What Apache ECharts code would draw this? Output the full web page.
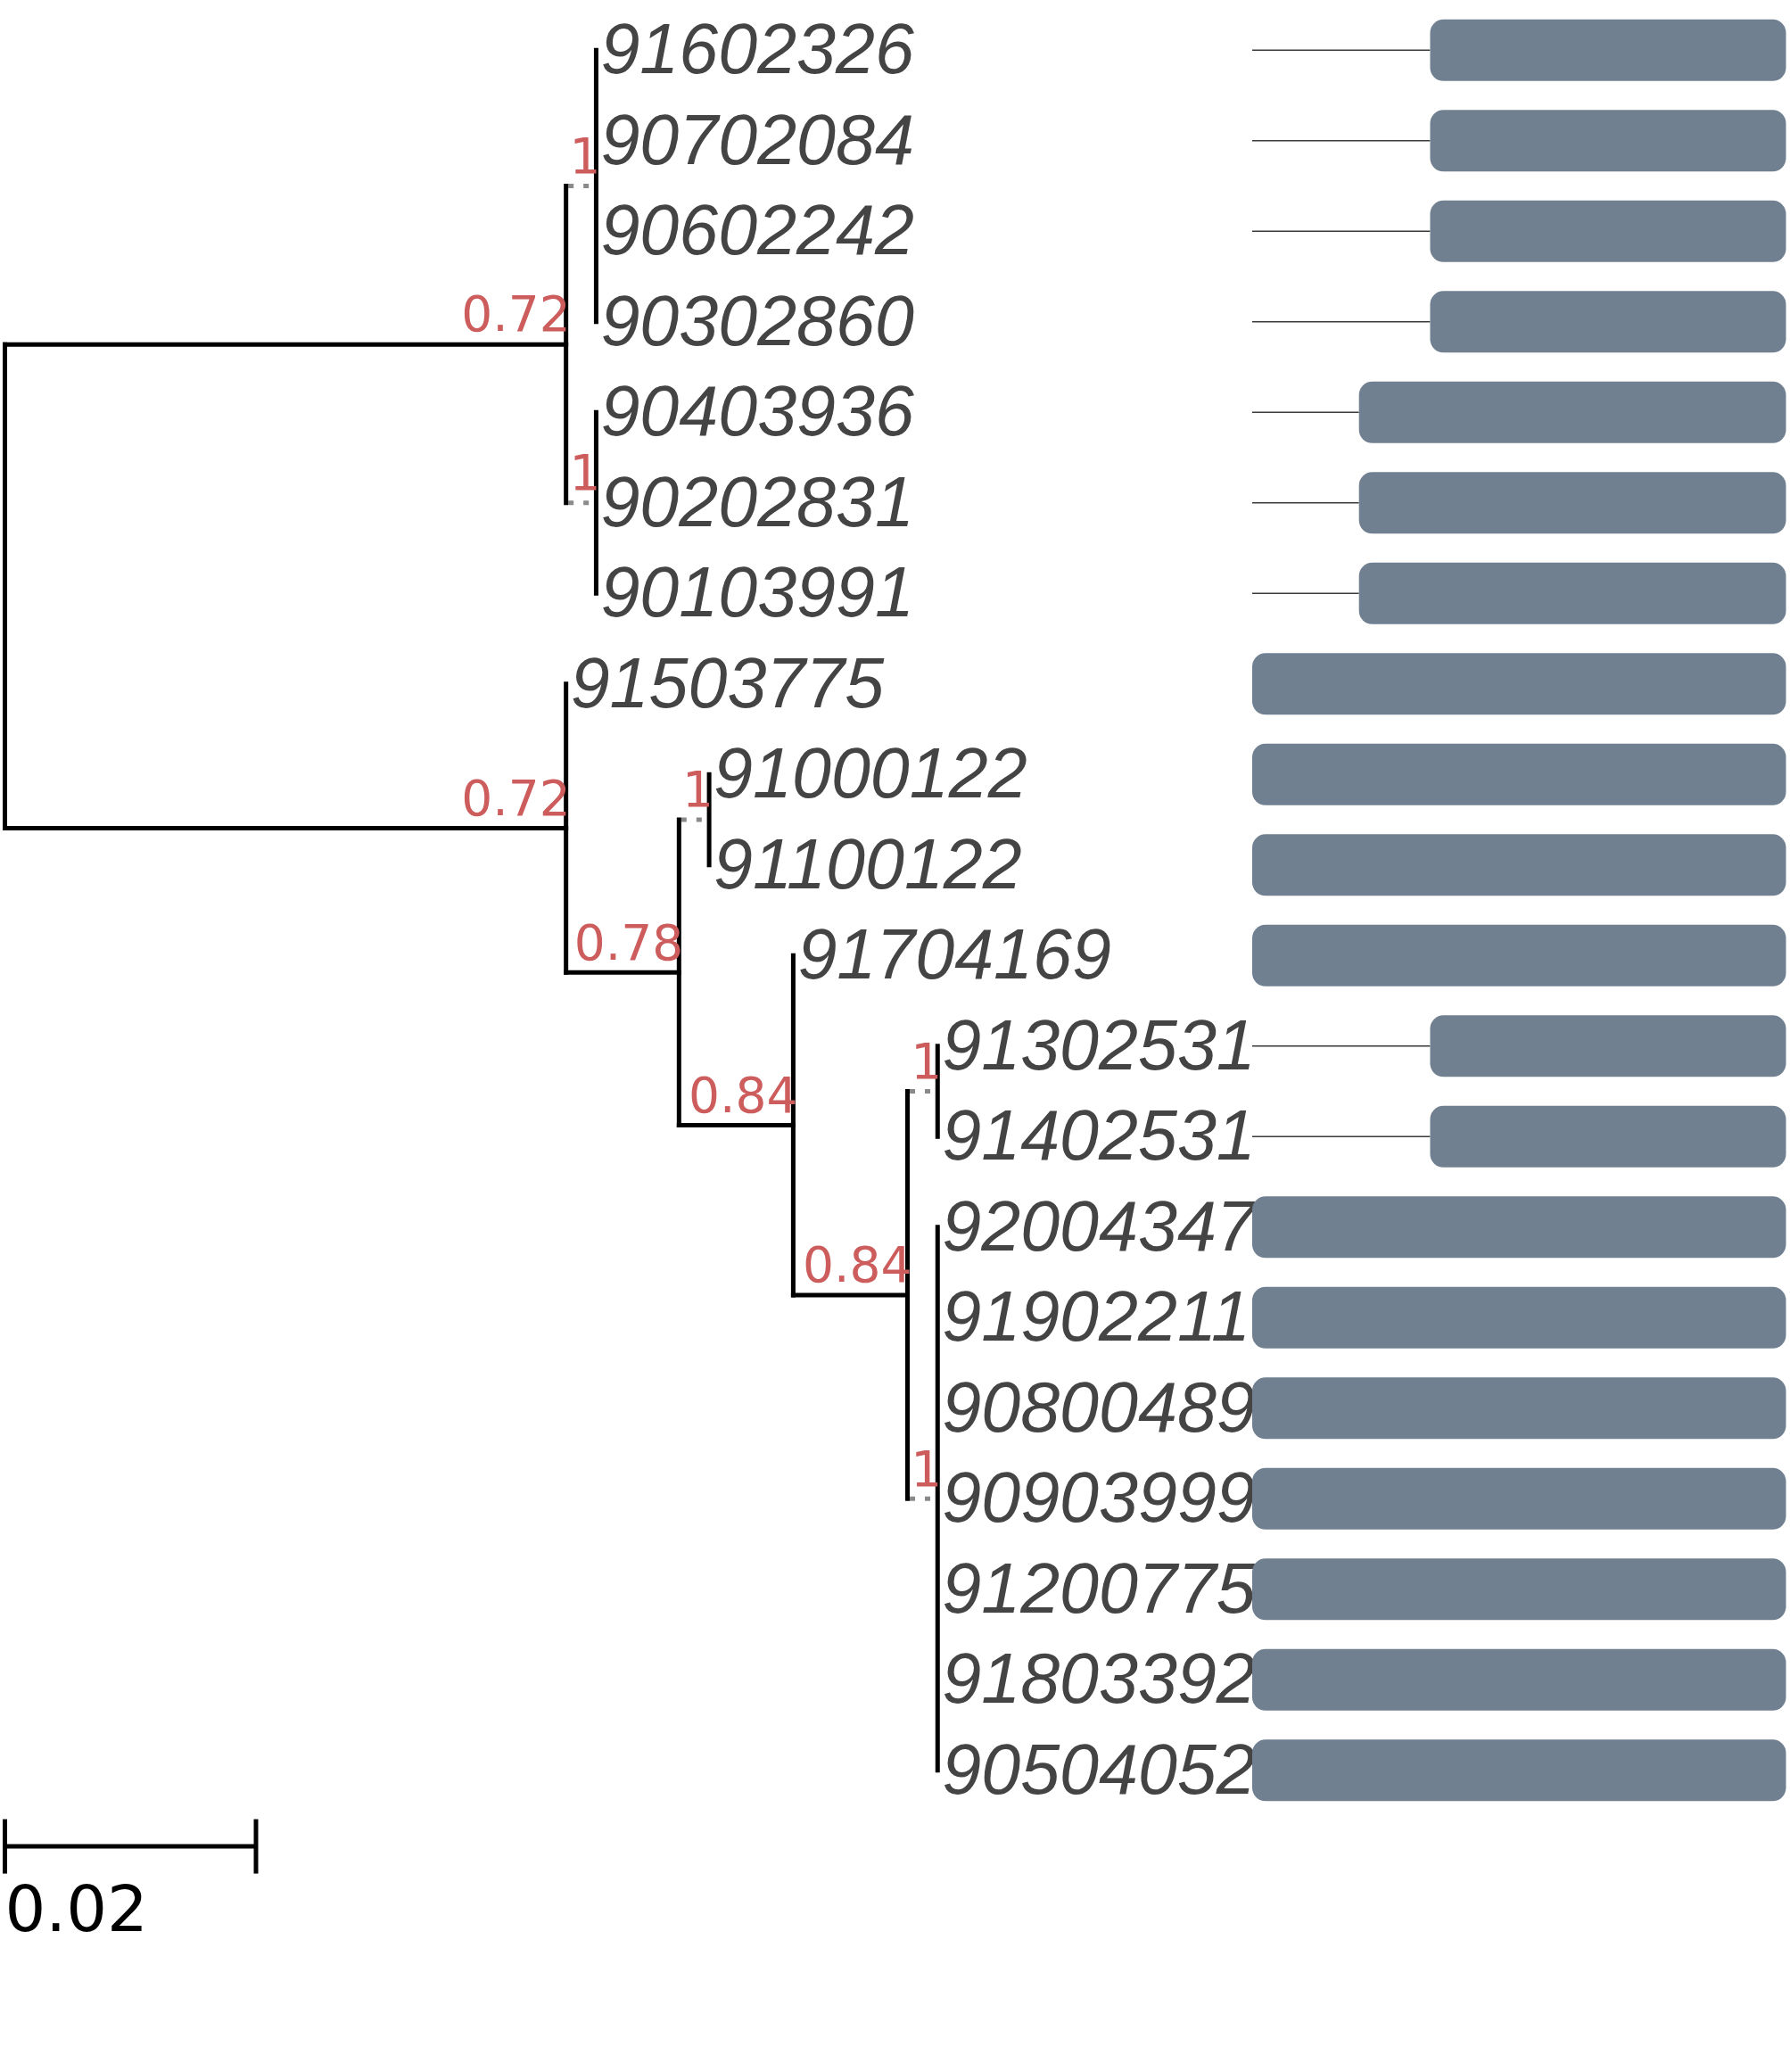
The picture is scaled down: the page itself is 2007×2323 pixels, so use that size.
<!DOCTYPE html>
<html lang="en">
<head>
    <meta charset="UTF-8">
    <title>Tree with bar panel</title>
    <script src="https://cdn.jsdelivr.net/npm/echarts@6/dist/echarts.min.js"></script>
    <style>
        html, body { margin: 0; padding: 0; background: #fff; }
        #chart { width: 2007px; height: 2323px; }
    </style>
</head>
<body>
    <div id="chart"></div>
    <script>
        // tips, top to bottom
        const tipNames = ['91602326', '90702084', '90602242', '90302860', '90403936', '90202831', '90103991',
            '91503775', '91000122', '91100122', '91704169', '91302531', '91402531', '92004347', '91902211',
            '90800489', '90903999', '91200775', '91803392', '90504052'];
        const tipParent = ['A1', 'A1', 'A1', 'A1', 'A2', 'A2', 'A2', 'B', 'D', 'D', 'E', 'G', 'G',
            'H', 'H', 'H', 'H', 'H', 'H', 'H'];
        const tipBranch = [0, 0, 0, 0, 0, 0, 0, 0, 0, 0, 0, 0, 0, 0, 0, 0, 0, 0, 0, 0];

        // internal nodes, parents listed before children
        const nodeIds = ['root', 'A', 'A1', 'A2', 'B', 'C', 'D', 'E', 'F', 'G', 'H'];
        const nodeParent = ['', 'root', 'A', 'A', 'root', 'B', 'C', 'C', 'E', 'F', 'F'];
        const nodeBranch = [0, 0.0447, 0.0024, 0.0024, 0.0447, 0.009, 0.0024, 0.0091, 0.0091, 0.0024, 0.0024];
        const nodeSupport = ['', '0.72', '1', '1', '0.72', '0.78', '1', '0.84', '0.84', '1', '1'];

        // right panel bars
        const barValues = [10, 10, 10, 10, 12, 12, 12, 15, 15, 15, 15, 10, 10, 15, 15, 15, 15, 15, 15, 15];
        const barMax = 15;
        const scaleBarLength = 0.02;

        // layout: x = cumulative branch length, y = tip row / middle of children
        const nodeX = {}, nodeY = {}, kids = {};
        nodeIds.forEach((id, i) => {
            nodeX[id] = i === 0 ? 0 : nodeX[nodeParent[i]] + nodeBranch[i];
            kids[id] = [];
        });
        const tipX = tipNames.map((_, i) => nodeX[tipParent[i]] + tipBranch[i]);
        const tipY = tipNames.map((_, i) => i + 1);
        tipNames.forEach((_, i) => kids[tipParent[i]].push(tipY[i]));
        for (let i = nodeIds.length - 1; i >= 0; i--) {
            const ys = kids[nodeIds[i]];
            nodeY[nodeIds[i]] = (Math.min(...ys) + Math.max(...ys)) / 2;
            if (i > 0) kids[nodeParent[i]].push(nodeY[nodeIds[i]]);
        }

        const edges = [];
        nodeIds.forEach((id, i) => {
            if (i > 0) {
                edges.push([nodeX[nodeParent[i]], nodeY[id], nodeX[id], nodeY[id], nodeSupport[i] === '1' ? 1 : 0]);
            }
            const ys = kids[id];
            edges.push([nodeX[id], Math.min(...ys), nodeX[id], Math.max(...ys), 0]);
        });
        tipNames.forEach((_, i) => {
            if (tipBranch[i] > 0) edges.push([nodeX[tipParent[i]], tipY[i], tipX[i], tipY[i], 0]);
        });
        // dotted ones first so solid lines sit on top
        edges.sort((a, b) => b[4] - a[4]);

        const supportData = [];
        nodeIds.forEach((id, i) => {
            if (nodeSupport[i]) supportData.push([nodeX[id], nodeY[id], nodeSupport[i]]);
        });

        const rowTop = 56.3, rowStep = 101.5;
        const yMax = 22;

        const chart = echarts.init(document.getElementById('chart'));
        const option = {
            animation: false,
            grid: [
                { left: 5.5, top: rowTop, width: 1407.5, height: rowStep * (yMax - 1) },
                { left: 1404, top: rowTop, width: 598.5, height: rowStep * (yMax - 1) }
            ],
            xAxis: [
                { type: 'value', gridIndex: 0, min: 0, max: 0.1, show: false },
                { type: 'value', gridIndex: 1, min: 0, max: barMax, inverse: true, show: false }
            ],
            yAxis: [
                { type: 'value', gridIndex: 0, min: 1, max: yMax, inverse: true, show: false },
                { type: 'value', gridIndex: 1, min: 1, max: yMax, inverse: true, show: false }
            ],
            series: [
                {
                    // branches
                    type: 'custom',
                    xAxisIndex: 0, yAxisIndex: 0,
                    data: edges,
                    renderItem: (params, api) => {
                        const p1 = api.coord([api.value(0), api.value(1)]);
                        const p2 = api.coord([api.value(2), api.value(3)]);
                        const dotted = api.value(4) === 1;
                        return {
                            type: 'line',
                            shape: { x1: p1[0], y1: p1[1], x2: p2[0], y2: p2[1] },
                            style: dotted
                                ? { stroke: '#8a8a8a', lineWidth: 5, lineDash: [6, 11], lineDashOffset: -2.5, lineCap: 'butt' }
                                : { stroke: '#000', lineWidth: 5, lineCap: 'square' }
                        };
                    }
                },
                {
                    // tip labels
                    type: 'custom',
                    xAxisIndex: 0, yAxisIndex: 0,
                    data: tipNames.map((n, i) => [tipX[i], tipY[i], n]),
                    renderItem: (params, api) => {
                        const p = api.coord([api.value(0), api.value(1)]);
                        return {
                            type: 'text',
                            x: p[0] + 5, y: p[1] + 4,
                            style: {
                                text: tipNames[params.dataIndex],
                                fill: '#444444',
                                fontSize: 79,
                                fontStyle: 'italic',
                                fontFamily: "'Liberation Sans', Arial, sans-serif",
                                align: 'left', verticalAlign: 'middle'
                            }
                        };
                    }
                },
                {
                    // support values
                    type: 'custom',
                    xAxisIndex: 0, yAxisIndex: 0,
                    data: supportData,
                    renderItem: (params, api) => {
                        const p = api.coord([api.value(0), api.value(1)]);
                        return {
                            type: 'text',
                            x: p[0] + 5, y: p[1] - 29,
                            style: {
                                text: supportData[params.dataIndex][2],
                                fill: '#cd5c5c',
                                fontSize: 55,
                                fontFamily: "'DejaVu Sans', sans-serif",
                                align: 'right', verticalAlign: 'middle'
                            }
                        };
                    }
                },
                {
                    // scale bar
                    type: 'custom',
                    xAxisIndex: 0, yAxisIndex: 0,
                    data: [[0, tipNames.length + 0.84, scaleBarLength]],
                    renderItem: (params, api) => {
                        const a = api.coord([api.value(0), api.value(1)]);
                        const b = api.coord([api.value(0) + api.value(2), api.value(1)]);
                        const st = { stroke: '#000', lineWidth: 5 };
                        return {
                            type: 'group',
                            children: [
                                { type: 'line', shape: { x1: a[0], y1: a[1], x2: b[0], y2: b[1] }, style: st },
                                { type: 'line', shape: { x1: a[0], y1: a[1] - 30.5, x2: a[0], y2: a[1] + 30.5 }, style: st },
                                { type: 'line', shape: { x1: b[0], y1: b[1] - 30.5, x2: b[0], y2: b[1] + 30.5 }, style: st },
                                {
                                    type: 'text', x: a[0], y: a[1] + 76,
                                    style: {
                                        text: String(scaleBarLength), fill: '#000', fontSize: 72,
                                        fontFamily: "'DejaVu Sans', sans-serif",
                                        align: 'left', verticalAlign: 'middle'
                                    }
                                }
                            ]
                        };
                    }
                },
                {
                    // bars with leader lines
                    type: 'custom',
                    xAxisIndex: 1, yAxisIndex: 1,
                    data: barValues.map((v, i) => [v, i + 1]),
                    renderItem: (params, api) => {
                        const v = api.value(0), row = api.value(1);
                        const start = api.coord([v, row]);
                        const end = api.coord([0, row]);
                        const far = api.coord([barMax, row]);
                        const h = api.size([0, 1])[1] * 0.68;
                        const children = [{
                            type: 'rect',
                            shape: { x: start[0], y: start[1] - h / 2, width: end[0] - start[0], height: h, r: 15 },
                            style: { fill: '#708090' }
                        }];
                        if (start[0] > far[0]) {
                            children.unshift({
                                type: 'line',
                                shape: { x1: far[0], y1: start[1], x2: start[0], y2: start[1] },
                                style: { stroke: '#3a3a3a', lineWidth: 1.5 }
                            });
                        }
                        return { type: 'group', children };
                    }
                }
            ]
        };
        chart.setOption(option);
        window.addEventListener('resize', () => chart.resize());
    </script>
</body>
</html>
